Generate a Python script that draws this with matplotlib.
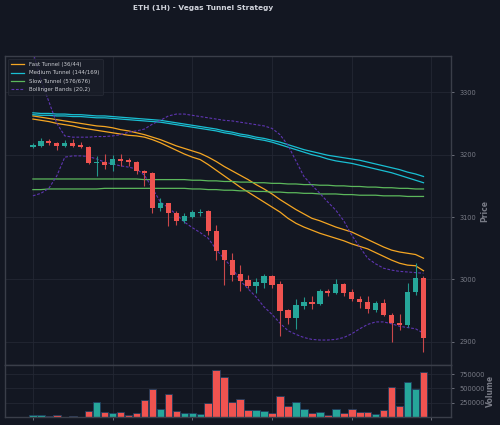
import matplotlib
matplotlib.use('Agg')
import matplotlib.pyplot as plt
import numpy as np

#-----------------------------------------------------------------------------#
# data

opens = [3213, 3214, 3222, 3219, 3214, 3219, 3215, 3213, 3187, 3189,
         3183, 3193, 3192, 3189, 3173, 3171, 3115, 3122, 3106, 3093,
         3100, 3107, 3110, 3078, 3047, 3031, 3009, 2999, 2990, 2995,
         3006, 2992, 2951, 2938, 2958, 2964, 2960, 2981, 2978, 2993,
         2980, 2969, 2964, 2951, 2963, 2943, 2931, 2927, 2980, 3002]
highs = [3219, 3226, 3225, 3220, 3224, 3225, 3221, 3214, 3198, 3201,
         3200, 3201, 3194, 3190, 3175, 3172, 3130, 3123, 3110, 3107,
         3112, 3113, 3111, 3088, 3048, 3042, 3023, 3007, 3002, 3008,
         3007, 2998, 2952, 2969, 2972, 2973, 2984, 2985, 3001, 2994,
         2984, 2973, 2974, 2966, 2968, 2947, 2944, 2995, 3026, 3005]
lows = [3210, 3212, 3216, 3207, 3212, 3212, 3210, 3185, 3166, 3177,
        3174, 3181, 3181, 3169, 3150, 3107, 3110, 3085, 3087, 3091,
        3099, 3101, 3072, 3032, 2991, 2998, 2982, 2987, 2978, 2986,
        2987, 2909, 2929, 2920, 2953, 2953, 2959, 2974, 2977, 2974,
        2966, 2954, 2947, 2948, 2941, 2900, 2919, 2924, 2975, 2884]
closes = [3216, 3222, 3218, 3214, 3219, 3214, 3213, 3187, 3188, 3183,
          3193, 3190, 3188, 3173, 3171, 3115, 3123, 3106, 3093, 3102,
          3108, 3108, 3078, 3046, 3031, 3007, 2998, 2990, 2996, 3006,
          2991, 2950, 2938, 2959, 2964, 2960, 2981, 2978, 2993, 2978,
          2969, 2964, 2952, 2963, 2943, 2930, 2927, 2980, 3002, 2907]
volumes = [30000, 30000, 15000, 30000, 8000, 25000, 8000, 113000, 262000, 90000,
           72000, 90000, 35000, 78000, 304000, 490000, 132000, 411000, 107000, 78000,
           72000, 59000, 250000, 821000, 703000, 257000, 316000, 120000, 120000, 113000,
           66000, 375000, 196000, 268000, 143000, 72000, 84000, 40000, 143000, 72000,
           143000, 95000, 84000, 54000, 125000, 530000, 196000, 620000, 495000, 780000]

fast_upper = [3262, 3260, 3258, 3256, 3254, 3252, 3250, 3248, 3246, 3245,
              3243, 3240, 3238, 3235, 3232, 3228, 3224, 3219, 3214, 3210,
              3206, 3202, 3196, 3189, 3181, 3174, 3167, 3160, 3152, 3145,
              3137, 3128, 3120, 3112, 3105, 3098, 3094, 3089, 3084, 3080,
              3076, 3070, 3064, 3058, 3052, 3047, 3044, 3042, 3040, 3034]
fast_lower = [3257, 3255, 3253, 3250, 3248, 3246, 3243, 3241, 3239, 3237,
              3235, 3233, 3231, 3230, 3228, 3224, 3219, 3213, 3207, 3201,
              3196, 3192, 3184, 3175, 3166, 3157, 3148, 3140, 3132, 3124,
              3116, 3108, 3098, 3090, 3084, 3079, 3074, 3070, 3066, 3062,
              3057, 3053, 3049, 3043, 3037, 3031, 3026, 3023, 3022, 3014]
medium_upper = [3267, 3266, 3266, 3265, 3265, 3264, 3264, 3263, 3262, 3262,
                3261, 3260, 3259, 3258, 3257, 3256, 3255, 3253, 3251, 3249,
                3247, 3245, 3243, 3241, 3238, 3236, 3233, 3231, 3228, 3226,
                3223, 3220, 3216, 3212, 3208, 3205, 3202, 3199, 3197, 3195,
                3193, 3191, 3188, 3185, 3182, 3179, 3176, 3172, 3169, 3165]
medium_lower = [3264, 3263, 3263, 3262, 3262, 3261, 3261, 3260, 3259, 3259,
                3258, 3257, 3256, 3255, 3254, 3253, 3252, 3250, 3248, 3246,
                3244, 3242, 3240, 3238, 3235, 3233, 3230, 3228, 3225, 3223,
                3220, 3216, 3212, 3208, 3204, 3200, 3197, 3193, 3190, 3188,
                3186, 3183, 3180, 3177, 3174, 3171, 3167, 3163, 3159, 3155]
slow_upper = [3161, 3161, 3161, 3161, 3161, 3161, 3161, 3161, 3161, 3161,
              3161, 3161, 3161, 3161, 3160, 3160, 3160, 3160, 3160, 3160,
              3159, 3159, 3158, 3158, 3157, 3157, 3156, 3156, 3155, 3155,
              3154, 3154, 3153, 3153, 3152, 3152, 3151, 3151, 3150, 3150,
              3149, 3149, 3148, 3148, 3147, 3147, 3146, 3146, 3145, 3145]
slow_lower = [3144, 3144, 3145, 3145, 3145, 3145, 3145, 3145, 3145, 3146,
              3146, 3146, 3146, 3146, 3146, 3146, 3146, 3146, 3146, 3146,
              3145, 3145, 3144, 3144, 3143, 3143, 3142, 3142, 3141, 3141,
              3140, 3140, 3139, 3139, 3138, 3138, 3137, 3137, 3137, 3136,
              3136, 3135, 3135, 3135, 3134, 3134, 3134, 3133, 3133, 3133]
bb_upper = [3365, 3320, 3285, 3250, 3230, 3228, 3228, 3228, 3229, 3229,
            3230, 3232, 3236, 3238, 3241, 3249, 3255, 3262, 3265, 3265,
            3263, 3261, 3259, 3257, 3255, 3254, 3252, 3250, 3248, 3246,
            3242, 3232, 3215, 3190, 3165, 3151, 3138, 3124, 3111, 3094,
            3071, 3052, 3034, 3025, 3018, 3015, 3013, 3012, 3011, 3010]
bb_lower = [3134, 3138, 3146, 3166, 3196, 3198, 3198, 3197, 3193, 3188,
            3185, 3182, 3180, 3177, 3167, 3146, 3124, 3115, 3104, 3092,
            3083, 3075, 3066, 3048, 3033, 3019, 2998, 2985, 2972, 2956,
            2944, 2930, 2918, 2912, 2907, 2904, 2903, 2903, 2904, 2907,
            2913, 2921, 2928, 2932, 2932, 2929, 2925, 2923, 2921, 2914]

#-----------------------------------------------------------------------------#
# style

BG = '#131722'
GRID = '#232733'
SPINE = '#3a3e49'
TEXT = '#787b86'
UP = '#26a69a'
DOWN = '#ef5350'

#-----------------------------------------------------------------------------#
# plot

fig = plt.figure(figsize=(5, 4.25), dpi=100, facecolor=BG)
ax = fig.add_axes([0.01, 0.1412, 0.892, 0.727])
axv = fig.add_axes([0.01, 0.0188, 0.892, 0.1224], sharex=ax)

x = np.arange(len(opens))
o = np.array(opens)
c = np.array(closes)
up = c >= o
colors = np.where(up, UP, DOWN)
wick_colors = np.where(up, '#22968b', '#c9474a')

for a in (ax, axv):
    a.set_facecolor(BG)
    a.yaxis.tick_right()
    a.yaxis.set_label_position('right')
    a.grid(True, color=GRID, linewidth=0.6)
    a.set_axisbelow(True)
    for s in a.spines.values():
        s.set_color(SPINE)
        s.set_linewidth(1.0)
    a.tick_params(colors=TEXT, labelsize=4.8, length=2.5, width=0.6)

# tunnels and bands
ax.plot(x, fast_upper, color='#f5a623', lw=0.9, label='Fast Tunnel (36/44)')
ax.plot(x, fast_lower, color='#f5a623', lw=0.9)
ax.plot(x, medium_upper, color='#19bfd3', lw=0.9, label='Medium Tunnel (144/169)')
ax.plot(x, medium_lower, color='#19bfd3', lw=0.9)
ax.plot(x, slow_upper, color='#5cb85c', lw=0.9, label='Slow Tunnel (576/676)')
ax.plot(x, slow_lower, color='#5cb85c', lw=0.9)
ax.plot(x, bb_upper, color='#5e35b1', lw=0.8, ls='--', dashes=(2.5, 1.5),
        label='Bollinger Bands (20,2)')
ax.plot(x, bb_lower, color='#5e35b1', lw=0.8, ls='--', dashes=(2.5, 1.5))

# candles
ax.vlines(x, lows, highs, colors=wick_colors, linewidth=0.8, zorder=3)
body = np.maximum(np.abs(c - o), 0.8)
ax.bar(x, body, bottom=np.minimum(o, c), width=0.66, color=colors,
       linewidth=0, zorder=4)

ax.set_xlim(-3.5, 52.45)
ax.set_ylim(2863, 3358)
ax.set_yticks([2900, 3000, 3100, 3200, 3300])
ax.set_ylabel('Price', color=TEXT, fontsize=5.5, fontweight='bold', labelpad=3)
ax.tick_params(axis='x', labelbottom=False, length=0)

leg = ax.legend(loc='upper left', fontsize=4, frameon=True, facecolor='#1a1e29',
                edgecolor='#2a2e39', labelcolor='#c8cad0', handlelength=2.4,
                borderpad=0.6, labelspacing=0.6, borderaxespad=0.5)
leg.get_frame().set_linewidth(0.6)

# volume
axv.bar(x, volumes, width=0.95, color=colors, edgecolor='#1f3e5e', linewidth=0.6)
axv.set_ylim(0, 910000)
axv.set_yticks([250000, 500000, 750000])
axv.set_ylabel('Volume', color=TEXT, fontsize=5.5, fontweight='bold', labelpad=1)
axv.set_xticks([0, 10, 20, 30, 40, 50])
axv.tick_params(axis='x', labelbottom=False)

fig.text(0.406, 0.981, 'ETH (1H) - Vegas Tunnel Strategy', color='#d1d4dc',
         fontsize=5.3, fontweight='bold', ha='center', va='center')

fig.savefig('out.png', dpi=100, facecolor=BG)
